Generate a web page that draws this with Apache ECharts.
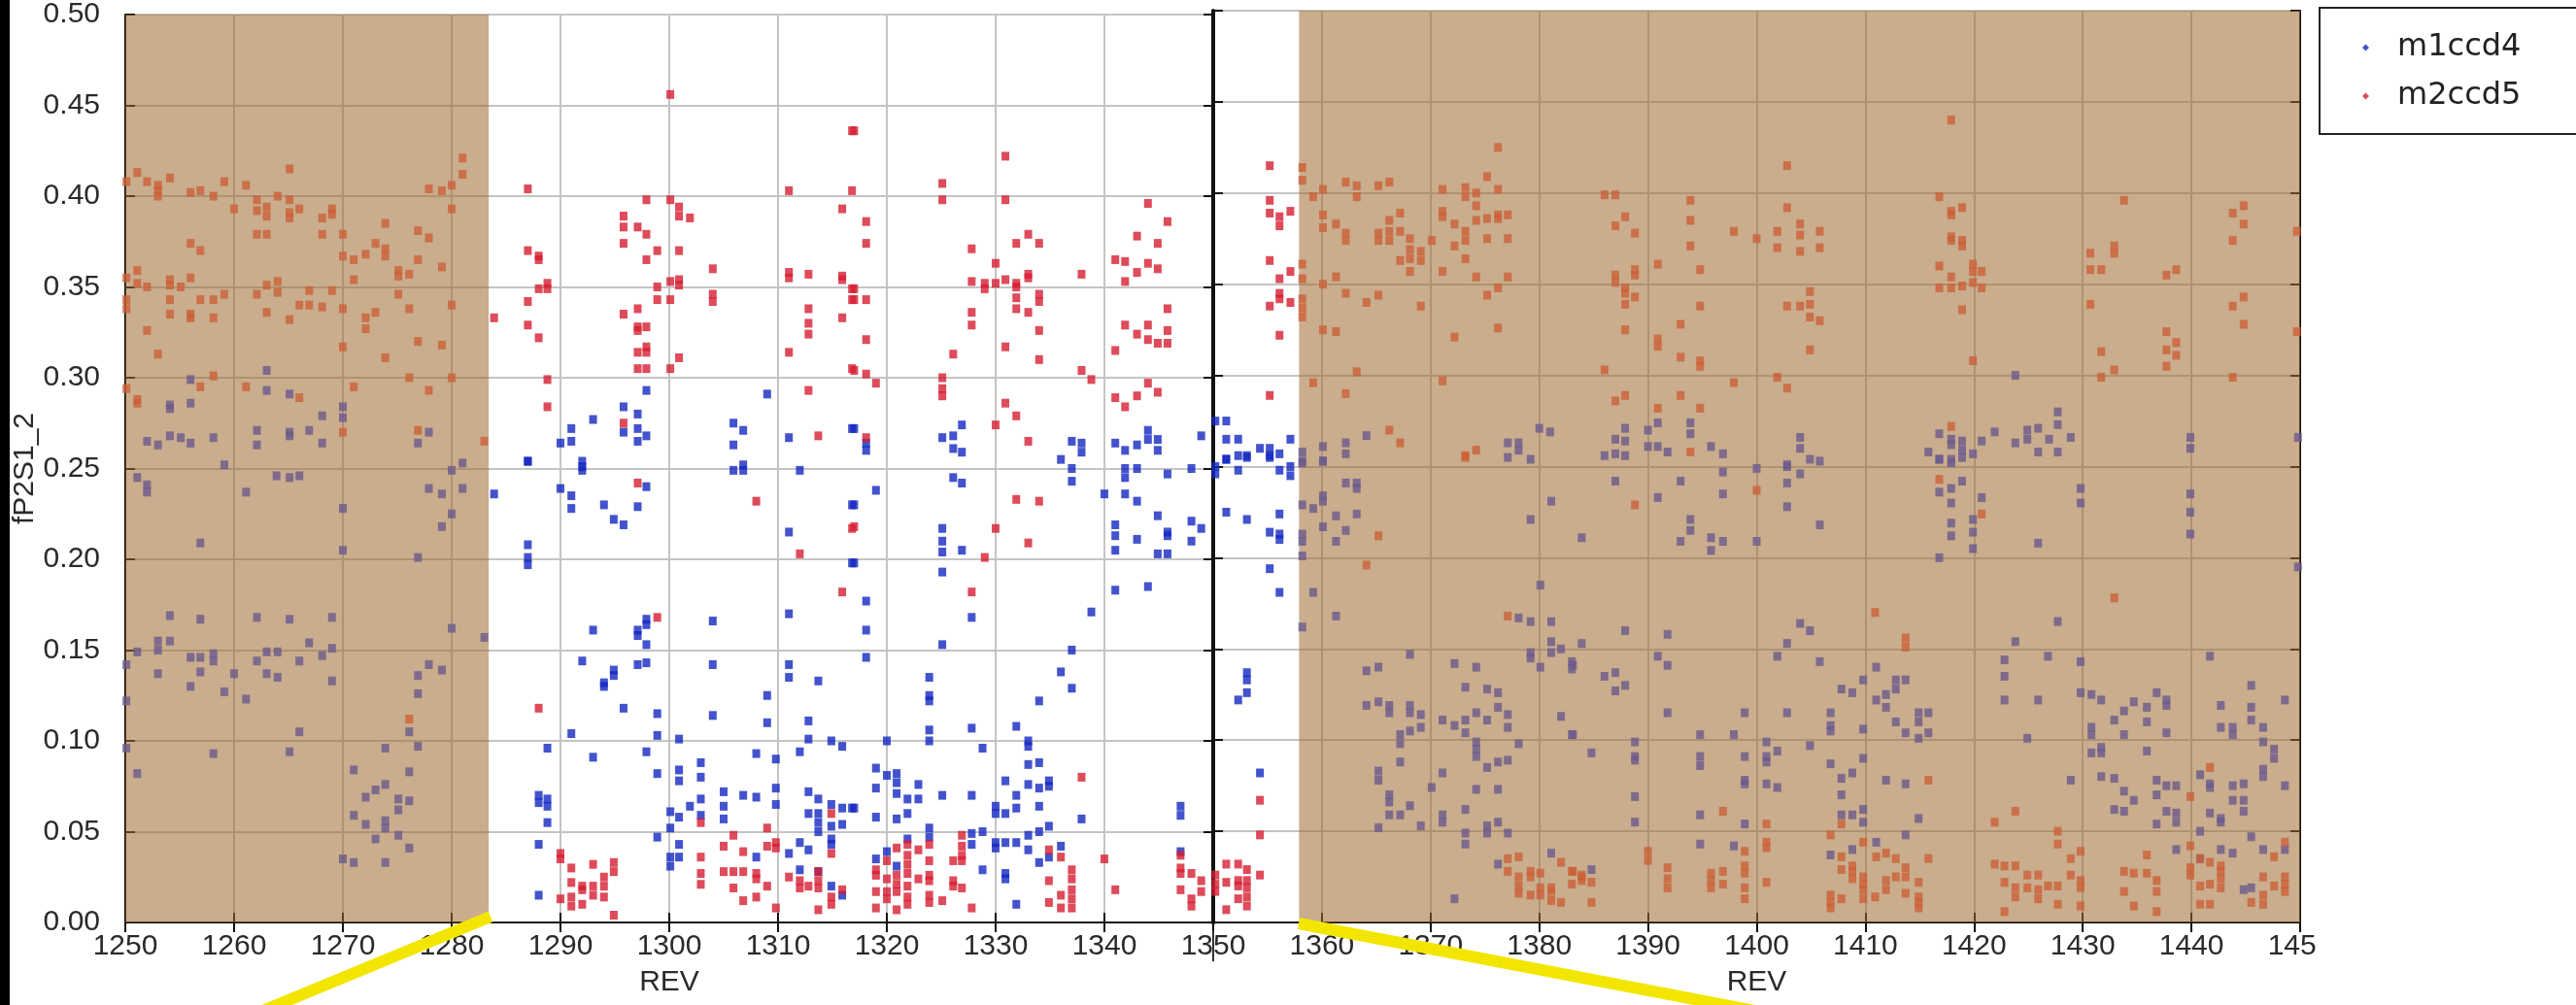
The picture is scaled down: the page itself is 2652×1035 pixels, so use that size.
<!DOCTYPE html>
<html>
<head>
<meta charset="utf-8">
<title>fP2S1_2 vs REV</title>
<script src="https://cdn.jsdelivr.net/npm/echarts/dist/echarts.min.js"></script>
<style>
  html, body { margin: 0; padding: 0; background: #fff; }
  #chart { width: 2652px; height: 1035px; }
</style>
</head>
<body>
<div id="chart"></div>
<script>
// REV ranges shaded brown
const shadeRanges = [[1250, 1283.4], [1357.9, 1450]];

// m1ccd4 [REV, fP2S1_2]
const m1ccd4 = [
  [1263.0,0.304],[1256.0,0.299],[1263.0,0.293],[1265.1,0.291],[1254.1,0.285],[1254.1,0.283],[1256.0,0.286],[1270.0,0.284],
  [1270.0,0.278],[1268.1,0.279],[1262.1,0.271],[1265.1,0.270],[1265.1,0.268],[1266.9,0.271],[1252.0,0.265],[1253.0,0.263],
  [1254.1,0.268],[1255.1,0.267],[1256.0,0.264],[1258.1,0.267],[1262.1,0.263],[1268.1,0.264],[1276.9,0.264],[1277.9,0.270],
  [1259.1,0.252],[1281.0,0.253],
  [1297.9,0.293],[1309.0,0.291],[1295.8,0.284],[1297.1,0.280],[1293.0,0.277],[1291.0,0.272],[1291.0,0.265],[1290.0,0.264],
  [1295.8,0.270],[1297.1,0.272],[1297.9,0.268],[1297.1,0.265],[1305.9,0.275],[1306.8,0.271],[1305.9,0.263],[1311.0,0.267],
  [1316.8,0.272],[1287.0,0.254],[1292.0,0.254],[1292.0,0.251],[1306.8,0.252],
  [1251.1,0.245],[1252.0,0.241],[1252.0,0.237],[1263.9,0.246],[1265.1,0.245],[1266.0,0.246],[1261.1,0.237],[1280.0,0.249],
  [1277.9,0.239],[1279.1,0.236],[1281.0,0.239],[1270.0,0.228],[1280.0,0.225],[1279.1,0.218],[1256.9,0.209],[1270.0,0.205],
  [1276.9,0.201],[1254.1,0.169],[1256.9,0.167],[1262.1,0.168],[1265.1,0.167],[1269.0,0.168],[1280.0,0.162],[1283.0,0.157],
  [1253.0,0.155],[1253.0,0.150],[1254.1,0.155],[1251.1,0.149],[1256.0,0.146],[1256.9,0.146],[1258.1,0.148],[1258.1,0.144],
  [1262.1,0.144],[1263.0,0.149],[1264.0,0.149],[1266.0,0.144],[1266.9,0.154],[1268.1,0.147],[1269.0,0.151],[1250.1,0.142],
  [1253.0,0.137],[1256.9,0.138],[1260.0,0.137],[1263.0,0.137],[1264.0,0.135],[1269.0,0.133],[1256.0,0.130],[1259.1,0.127],
  [1261.1,0.123],[1276.9,0.136],[1277.9,0.142],[1279.1,0.139],[1276.9,0.126],[1250.1,0.122],[1276.1,0.105],[1266.0,0.105],
  [1250.1,0.096],[1258.1,0.093],[1265.1,0.094],[1273.9,0.096],[1276.9,0.097],[1251.1,0.082],[1271.0,0.084],[1276.1,0.083],
  [1273.9,0.076],[1273.0,0.073],[1272.1,0.069],[1275.1,0.068],[1276.1,0.067],[1275.1,0.062],[1271.0,0.059],[1272.1,0.054],
  [1273.9,0.056],[1273.9,0.052],[1275.1,0.048],[1273.0,0.046],[1276.1,0.041],[1270.0,0.035],[1271.0,0.033],[1273.9,0.033],
  [1287.0,0.254],[1292.0,0.249],[1305.9,0.249],[1306.8,0.249],[1312.0,0.249],[1283.9,0.236],[1290.0,0.239],[1291.0,0.235],
  [1291.0,0.228],[1294.0,0.230],[1294.9,0.222],[1295.8,0.219],[1297.1,0.229],[1297.9,0.240],[1287.0,0.208],[1287.0,0.201],
  [1287.0,0.197],[1311.0,0.215],[1316.8,0.230],[1316.8,0.198],[1311.0,0.170],[1304.0,0.166],[1297.9,0.167],[1297.9,0.164],
  [1297.1,0.161],[1297.1,0.158],[1293.0,0.161],[1297.9,0.153],[1292.0,0.144],[1297.1,0.142],[1297.9,0.143],[1294.9,0.139],
  [1294.9,0.136],[1294.0,0.132],[1294.0,0.130],[1304.0,0.142],[1311.0,0.142],[1311.0,0.135],[1313.7,0.133],[1309.0,0.125],
  [1295.8,0.118],[1298.9,0.115],[1304.0,0.114],[1309.0,0.110],[1312.8,0.111],[1291.0,0.104],[1298.9,0.103],[1300.9,0.101],
  [1312.8,0.101],[1314.9,0.100],[1315.9,0.097],[1288.8,0.096],[1293.0,0.091],[1297.9,0.094],[1308.0,0.093],[1309.8,0.090],
  [1312.0,0.094],[1302.9,0.088],[1302.9,0.080],[1300.9,0.084],[1300.9,0.078],[1298.9,0.082],[1288.0,0.070],[1288.0,0.066],
  [1288.8,0.068],[1288.8,0.064],[1305.0,0.072],[1306.8,0.070],[1308.0,0.069],[1309.8,0.074],[1309.8,0.065],[1312.8,0.072],
  [1313.7,0.068],[1314.9,0.065],[1315.9,0.063],[1316.8,0.063],[1302.9,0.068],[1301.9,0.064],[1305.0,0.064],[1300.1,0.061],
  [1300.9,0.058],[1302.9,0.059],[1305.0,0.057],[1312.8,0.060],[1313.7,0.060],[1313.7,0.055],[1314.9,0.053],[1315.9,0.054],
  [1288.8,0.055],[1300.1,0.052],[1298.9,0.047],[1313.7,0.050],[1288.0,0.043],[1300.9,0.043],[1312.0,0.044],[1312.8,0.040],
  [1314.9,0.046],[1314.9,0.043],[1311.0,0.038],[1300.1,0.036],[1300.9,0.036],[1308.0,0.036],[1300.1,0.031],[1312.0,0.029],
  [1313.7,0.028],[1314.9,0.020],[1315.9,0.015],[1288.0,0.015],
  [1317.0,0.272],[1318.1,0.264],[1318.1,0.260],[1326.9,0.274],[1325.1,0.267],[1326.1,0.268],[1326.1,0.261],[1326.9,0.259],
  [1337.0,0.265],[1337.9,0.264],[1337.9,0.259],[1336.0,0.255],[1341.0,0.264],[1341.9,0.260],[1343.0,0.263],[1344.0,0.271],
  [1344.0,0.266],[1344.9,0.266],[1344.9,0.260],[1348.9,0.268],[1350.2,0.275],[1351.2,0.275],[1351.2,0.265],[1352.3,0.265],
  [1351.2,0.254],[1352.3,0.256],[1353.1,0.256],[1354.3,0.260],[1355.2,0.260],[1355.2,0.256],[1356.1,0.257],[1357.1,0.265],
  [1358.2,0.258],[1358.2,0.253],[1360.1,0.261],[1360.1,0.253],[1362.2,0.263],[1362.2,0.257],[1364.1,0.267],[1377.1,0.263],
  [1378.1,0.263],[1378.1,0.259],[1377.1,0.255],[1379.2,0.254],[1380.0,0.271],[1381.0,0.269],
  [1337.0,0.250],[1337.0,0.243],[1341.9,0.250],[1341.9,0.245],[1343.0,0.250],[1345.8,0.247],[1348.0,0.250],[1350.2,0.250],
  [1350.2,0.246],[1351.2,0.254],[1352.3,0.248],[1353.1,0.255],[1355.2,0.255],[1356.1,0.248],[1357.1,0.250],[1357.1,0.245],
  [1326.1,0.245],[1326.9,0.242],[1319.0,0.238],[1317.0,0.230],[1340.0,0.236],[1341.9,0.236],[1343.0,0.232],[1344.9,0.224],
  [1348.0,0.221],[1348.9,0.217],[1345.8,0.215],[1345.8,0.213],[1348.0,0.210],[1341.0,0.219],[1341.0,0.213],[1341.0,0.205],
  [1343.0,0.211],[1344.9,0.203],[1345.8,0.203],[1325.1,0.217],[1325.1,0.210],[1325.1,0.204],[1326.9,0.205],[1317.0,0.198],
  [1325.1,0.193],[1351.2,0.225],[1353.1,0.221],[1355.2,0.214],[1356.1,0.224],[1356.1,0.213],[1356.1,0.210],[1355.2,0.194],
  [1356.1,0.181],[1341.0,0.183],[1344.0,0.185],[1318.1,0.177],[1327.8,0.168],[1338.8,0.171],[1318.1,0.161],[1325.1,0.153],
  [1318.1,0.146],[1337.0,0.150],[1336.0,0.138],[1337.0,0.129],[1323.9,0.135],[1323.9,0.125],[1323.9,0.122],[1334.0,0.122],
  [1353.1,0.137],[1353.1,0.133],[1353.1,0.126],[1352.3,0.122],[1323.9,0.106],[1323.9,0.100],[1327.8,0.107],[1331.9,0.108],
  [1320.0,0.100],[1328.8,0.096],[1333.0,0.100],[1333.0,0.097],[1319.0,0.085],[1320.0,0.081],[1320.9,0.082],[1320.9,0.077],
  [1320.9,0.071],[1319.0,0.074],[1322.9,0.076],[1321.9,0.068],[1322.9,0.068],[1325.1,0.070],[1327.8,0.070],[1330.9,0.078],
  [1333.0,0.087],[1334.0,0.088],[1333.0,0.076],[1334.0,0.074],[1334.9,0.078],[1334.9,0.075],[1331.9,0.070],[1331.9,0.063],
  [1330.0,0.064],[1330.0,0.060],[1330.9,0.060],[1334.0,0.064],[1337.9,0.057],[1347.0,0.064],[1347.0,0.059],[1317.0,0.063],
  [1319.0,0.058],[1320.9,0.057],[1321.9,0.060],[1323.9,0.052],[1323.9,0.047],[1321.9,0.046],[1327.8,0.049],[1327.8,0.043],
  [1328.8,0.050],[1330.0,0.044],[1330.0,0.041],[1330.9,0.044],[1331.9,0.044],[1333.0,0.048],[1333.0,0.040],[1334.0,0.050],
  [1334.9,0.053],[1336.0,0.042],[1320.0,0.039],[1319.0,0.035],[1320.9,0.031],[1334.9,0.036],[1334.0,0.033],[1328.8,0.029],
  [1330.9,0.027],[1330.9,0.024],[1331.9,0.010],[1347.0,0.039],[1354.3,0.082],
  [1358.2,0.252],[1360.1,0.253],[1362.2,0.241],[1363.2,0.241],[1363.2,0.238],[1358.2,0.229],[1359.2,0.227],[1360.1,0.234],
  [1360.1,0.231],[1361.3,0.223],[1363.2,0.224],[1358.2,0.213],[1358.2,0.209],[1358.2,0.201],[1360.1,0.217],[1362.2,0.215],
  [1361.3,0.209],[1359.2,0.181],[1361.3,0.168],[1358.2,0.162],[1368.1,0.147],[1364.1,0.138],[1365.2,0.140],[1372.2,0.142],
  [1374.2,0.140],[1373.2,0.129],[1375.2,0.128],[1376.2,0.126],[1364.1,0.119],[1365.2,0.121],[1366.2,0.119],[1366.2,0.115],
  [1368.1,0.119],[1368.1,0.115],[1369.1,0.114],[1371.1,0.111],[1372.2,0.108],[1373.2,0.111],[1374.2,0.115],[1375.2,0.111],
  [1376.2,0.118],[1377.1,0.114],[1377.1,0.107],[1367.2,0.103],[1367.2,0.098],[1368.1,0.105],[1369.1,0.107],[1373.2,0.104],
  [1374.2,0.099],[1374.2,0.095],[1374.2,0.091],[1378.1,0.098],[1367.2,0.088],[1365.2,0.083],[1365.2,0.078],[1371.1,0.082],
  [1375.2,0.085],[1376.2,0.088],[1377.1,0.089],[1370.1,0.074],[1374.2,0.073],[1376.2,0.073],[1366.2,0.070],[1366.2,0.066],
  [1368.1,0.064],[1373.2,0.062],[1366.2,0.059],[1367.2,0.059],[1371.1,0.059],[1371.1,0.055],[1376.2,0.055],[1369.1,0.053],
  [1365.2,0.052],[1375.2,0.053],[1375.2,0.049],[1373.2,0.049],[1373.2,0.043],[1377.1,0.049],[1381.1,0.231],[1379.2,0.221],
  [1380.1,0.185],[1378.1,0.167],[1379.2,0.165],[1381.1,0.165],[1381.1,0.154],[1381.1,0.148],[1382.0,0.150],[1379.2,0.148],
  [1379.2,0.145],[1380.1,0.140],[1383.0,0.143],[1383.0,0.139],[1382.0,0.113],[1383.0,0.103],[1381.1,0.038],[1376.2,0.032],
  [1372.2,0.013],
  [1423.8,0.300],[1427.7,0.280],[1427.7,0.273],[1424.9,0.270],[1424.9,0.265],[1425.9,0.271],[1426.9,0.265],[1428.9,0.266],
  [1421.9,0.269],[1420.7,0.264],[1423.8,0.263],[1425.9,0.258],[1427.7,0.258],[1416.8,0.268],[1417.9,0.265],[1417.9,0.262],
  [1417.9,0.254],[1418.9,0.264],[1418.9,0.259],[1418.9,0.255],[1419.9,0.257],[1415.8,0.258],[1416.8,0.254],[1439.9,0.266],
  [1439.9,0.260],[1387.9,0.271],[1387.0,0.265],[1387.9,0.264],[1386.0,0.256],[1387.0,0.257],[1387.9,0.256],[1390.0,0.270],
  [1390.9,0.274],[1390.0,0.261],[1390.9,0.261],[1391.8,0.258],[1393.9,0.274],[1393.9,0.268],[1395.8,0.261],[1396.9,0.257],
  [1404.0,0.266],[1404.0,0.260],[1404.9,0.254],[1405.8,0.253],[1402.8,0.251],[1449.8,0.266],[1449.8,0.195],
  [1396.9,0.247],[1396.9,0.235],[1400.0,0.249],[1402.8,0.250],[1402.8,0.241],[1402.8,0.228],[1404.0,0.246],[1387.0,0.242],
  [1393.0,0.242],[1390.9,0.233],[1383.9,0.211],[1393.9,0.221],[1393.9,0.215],[1393.0,0.209],[1395.8,0.211],[1395.8,0.204],
  [1396.9,0.209],[1400.0,0.209],[1405.8,0.218],[1416.8,0.254],[1417.9,0.252],[1418.9,0.242],[1417.9,0.238],[1417.9,0.230],
  [1416.8,0.236],[1420.7,0.233],[1417.9,0.219],[1417.9,0.212],[1419.9,0.221],[1419.9,0.214],[1419.9,0.205],[1416.8,0.200],
  [1425.9,0.208],[1429.8,0.238],[1429.8,0.230],[1439.9,0.235],[1439.9,0.225],[1439.9,0.213],[1427.7,0.165],[1423.8,0.154],
  [1422.8,0.144],[1422.8,0.135],[1422.8,0.122],[1426.8,0.146],[1429.8,0.143],[1425.9,0.122],[1441.7,0.146],[1429.8,0.126],
  [1430.8,0.125],[1431.7,0.122],[1436.8,0.126],[1437.7,0.122],[1437.7,0.119],[1434.7,0.121],[1433.8,0.116],[1435.9,0.118],
  [1432.9,0.111],[1435.9,0.110],[1430.8,0.107],[1430.8,0.103],[1433.8,0.103],[1437.7,0.104],[1424.9,0.101],[1430.8,0.093],
  [1431.7,0.096],[1431.7,0.093],[1435.9,0.094],[1428.9,0.078],[1431.7,0.080],[1432.9,0.079],[1433.8,0.072],[1434.7,0.067],
  [1432.9,0.062],[1433.8,0.061],[1436.8,0.078],[1437.7,0.075],[1438.6,0.075],[1436.8,0.070],[1437.7,0.061],[1438.6,0.060],
  [1438.6,0.055],[1436.8,0.054],[1440.8,0.050],[1438.6,0.040],[1442.7,0.119],[1445.5,0.130],[1445.5,0.118],[1445.5,0.111],
  [1442.7,0.107],[1443.8,0.107],[1443.8,0.103],[1446.6,0.107],[1446.6,0.099],[1447.6,0.095],[1447.6,0.090],[1448.6,0.122],
  [1446.6,0.084],[1446.6,0.080],[1440.8,0.081],[1441.7,0.076],[1441.7,0.074],[1443.8,0.075],[1444.8,0.076],[1448.6,0.075],
  [1443.8,0.067],[1444.8,0.067],[1441.7,0.060],[1442.7,0.057],[1444.8,0.061],[1442.7,0.055],[1445.5,0.047],[1440.8,0.035],
  [1442.7,0.040],[1443.8,0.038],[1446.6,0.040],[1448.6,0.040],[1444.8,0.018],[1445.5,0.019],
  [1383.1,0.141],[1386.0,0.135],[1387.0,0.137],[1387.9,0.130],[1387.0,0.127],[1383.9,0.153],[1387.9,0.160],[1391.8,0.158],
  [1390.9,0.146],[1391.8,0.141],[1391.8,0.115],[1398.9,0.115],[1402.8,0.115],[1402.8,0.153],[1401.9,0.146],[1404.0,0.164],
  [1404.9,0.160],[1405.8,0.143],[1406.8,0.115],[1406.8,0.108],[1406.8,0.105],[1407.8,0.128],[1408.8,0.126],[1409.8,0.133],
  [1411.0,0.140],[1411.0,0.122],[1411.9,0.125],[1411.9,0.118],[1412.8,0.128],[1412.8,0.133],[1413.7,0.133],[1409.8,0.106],
  [1412.8,0.110],[1413.7,0.104],[1414.9,0.115],[1414.9,0.110],[1415.8,0.115],[1415.8,0.104],[1414.9,0.101],[1383.1,0.103],
  [1394.8,0.103],[1397.9,0.103],[1388.8,0.099],[1388.8,0.091],[1388.8,0.089],[1384.8,0.093],[1394.8,0.091],[1394.8,0.086],
  [1398.9,0.091],[1400.9,0.099],[1400.9,0.091],[1400.9,0.088],[1401.9,0.094],[1404.9,0.097],[1406.8,0.087],[1409.8,0.090],
  [1398.9,0.078],[1398.9,0.076],[1400.9,0.076],[1401.9,0.074],[1407.8,0.079],[1408.8,0.082],[1411.9,0.078],[1413.7,0.076],
  [1407.8,0.070],[1388.8,0.069],[1388.8,0.055],[1394.8,0.059],[1398.9,0.054],[1407.8,0.059],[1408.8,0.059],[1409.8,0.062],
  [1409.8,0.055],[1414.9,0.057],[1413.7,0.048],[1394.8,0.043],[1397.9,0.042],[1406.8,0.037],[1408.8,0.040],[1411.0,0.044],
  [1384.8,0.029]
];

// m2ccd5 [REV, fP2S1_2]
const m2ccd5 = [
  [1281.0,0.421],[1281.0,0.412],[1265.1,0.415],[1251.1,0.413],[1250.1,0.408],[1252.0,0.408],[1253.0,0.406],[1253.0,0.403],
  [1253.0,0.400],[1254.1,0.410],[1256.0,0.402],[1256.9,0.403],[1258.1,0.400],[1259.1,0.408],[1261.1,0.406],[1262.1,0.398],
  [1264.0,0.400],[1265.1,0.398],[1277.9,0.404],[1279.1,0.403],[1280.0,0.406],[1280.0,0.393],[1260.0,0.393],[1262.1,0.392],
  [1263.0,0.394],[1263.0,0.389],[1265.1,0.391],[1265.1,0.388],[1266.0,0.393],[1268.1,0.388],[1269.0,0.393],[1269.0,0.390],
  [1262.1,0.379],[1263.0,0.379],[1268.1,0.379],[1270.0,0.379],[1273.9,0.385],[1276.9,0.381],[1277.9,0.377],[1256.0,0.374],
  [1256.9,0.370],[1273.0,0.374],[1272.1,0.368],[1273.9,0.371],[1273.9,0.367],[1270.0,0.367],[1271.0,0.365],[1276.9,0.365],
  [1279.1,0.361],[1251.1,0.359],[1250.1,0.355],[1251.1,0.352],[1252.0,0.350],[1254.1,0.354],[1254.1,0.351],[1255.1,0.350],
  [1256.0,0.355],[1263.0,0.351],[1264.0,0.353],[1264.0,0.347],[1271.0,0.354],[1275.1,0.359],[1275.1,0.356],[1276.1,0.357],
  [1266.9,0.348],[1269.0,0.348],[1250.1,0.343],[1254.1,0.343],[1256.9,0.343],[1258.1,0.343],[1259.1,0.346],[1262.1,0.346],
  [1275.1,0.346],[1250.1,0.338],[1254.1,0.335],[1256.0,0.335],[1256.0,0.333],[1258.1,0.333],[1263.0,0.336],[1265.1,0.332],
  [1266.0,0.340],[1266.9,0.340],[1268.1,0.339],[1270.0,0.338],[1273.0,0.336],[1272.1,0.333],[1272.1,0.327],[1276.1,0.338],
  [1280.0,0.340],[1252.0,0.326],[1253.0,0.313],[1270.0,0.317],[1273.9,0.311],[1276.9,0.320],[1279.1,0.318],[1258.1,0.301],
  [1276.1,0.300],[1280.0,0.300],[1256.9,0.295],[1261.1,0.295],[1250.1,0.294],[1251.1,0.288],[1251.1,0.286],[1266.0,0.289],
  [1271.0,0.295],[1277.9,0.293],[1270.0,0.270],[1276.9,0.271],[1283.0,0.265],[1276.1,0.112],
  [1300.1,0.456],[1316.8,0.436],[1287.0,0.404],[1311.0,0.403],[1316.8,0.403],[1297.9,0.398],[1300.1,0.398],[1300.9,0.394],
  [1300.9,0.389],[1301.9,0.388],[1315.9,0.393],[1295.8,0.389],[1295.8,0.383],[1297.1,0.383],[1297.9,0.379],[1295.8,0.374],
  [1287.0,0.370],[1288.0,0.367],[1288.0,0.365],[1298.9,0.370],[1297.9,0.365],[1300.9,0.370],[1304.0,0.360],[1311.0,0.358],
  [1311.0,0.355],[1312.8,0.357],[1315.9,0.356],[1315.9,0.354],[1288.8,0.352],[1288.8,0.349],[1288.0,0.349],[1298.9,0.350],
  [1300.1,0.353],[1300.9,0.354],[1300.9,0.351],[1316.8,0.349],[1298.9,0.343],[1300.1,0.343],[1304.0,0.346],[1304.0,0.342],
  [1316.8,0.343],[1287.0,0.342],[1283.9,0.333],[1295.8,0.335],[1297.1,0.338],[1312.8,0.338],[1312.8,0.330],[1315.9,0.333],
  [1287.0,0.329],[1288.0,0.322],[1297.1,0.328],[1297.1,0.326],[1297.9,0.328],[1312.8,0.324],[1297.1,0.314],[1297.9,0.317],
  [1297.9,0.314],[1300.9,0.311],[1311.0,0.314],[1297.1,0.305],[1297.9,0.305],[1300.1,0.305],[1316.8,0.305],[1288.8,0.299],
  [1312.8,0.293],[1288.8,0.284],[1295.8,0.275],[1313.7,0.268],
  [1297.1,0.242],[1308.0,0.232],[1316.8,0.217],[1312.0,0.203],[1315.9,0.182],[1298.9,0.168],[1288.0,0.118],[1314.9,0.060],
  [1302.9,0.055],[1309.0,0.052],[1305.9,0.048],[1309.8,0.044],[1309.8,0.041],[1305.0,0.042],[1309.0,0.042],[1306.8,0.039],
  [1314.9,0.038],[1290.0,0.038],[1290.0,0.035],[1302.9,0.036],[1291.0,0.030],[1293.0,0.032],[1294.9,0.033],[1294.9,0.028],
  [1294.0,0.025],[1294.0,0.020],[1291.0,0.022],[1292.0,0.020],[1292.0,0.018],[1293.0,0.020],[1293.0,0.015],[1294.0,0.014],
  [1290.0,0.013],[1291.0,0.014],[1291.0,0.009],[1292.0,0.010],[1294.9,0.004],[1302.9,0.027],[1302.9,0.021],[1305.0,0.028],
  [1305.9,0.028],[1306.8,0.028],[1308.0,0.027],[1308.0,0.024],[1309.0,0.020],[1305.9,0.019],[1306.8,0.012],[1308.0,0.014],
  [1311.0,0.025],[1312.0,0.023],[1312.0,0.019],[1312.8,0.020],[1313.7,0.028],[1313.7,0.023],[1313.7,0.019],[1314.9,0.014],
  [1314.9,0.010],[1315.9,0.018],[1309.8,0.008],[1313.7,0.007],
  [1317.0,0.436],[1330.9,0.422],[1325.1,0.407],[1325.1,0.398],[1330.9,0.398],[1355.2,0.415],[1344.0,0.396],[1345.8,0.386],
  [1318.1,0.386],[1318.1,0.374],[1355.2,0.396],[1355.2,0.389],[1356.1,0.387],[1356.1,0.382],[1357.1,0.390],[1333.0,0.379],
  [1331.9,0.374],[1334.0,0.374],[1327.8,0.371],[1343.0,0.378],[1344.9,0.374],[1341.0,0.365],[1341.9,0.364],[1344.0,0.363],
  [1344.9,0.360],[1343.0,0.358],[1330.0,0.363],[1337.9,0.357],[1341.9,0.353],[1327.8,0.353],[1329.0,0.352],[1329.0,0.349],
  [1330.0,0.352],[1330.9,0.354],[1331.9,0.352],[1331.9,0.350],[1333.0,0.357],[1333.0,0.355],[1355.2,0.363],[1357.1,0.357],
  [1356.1,0.353],[1317.0,0.349],[1317.0,0.343],[1318.1,0.343],[1331.9,0.344],[1334.0,0.346],[1334.0,0.342],[1356.1,0.345],
  [1356.1,0.342],[1357.1,0.340],[1355.2,0.338],[1327.8,0.336],[1331.9,0.338],[1333.0,0.336],[1345.8,0.338],[1327.8,0.329],
  [1341.9,0.329],[1344.0,0.329],[1334.0,0.326],[1345.8,0.326],[1343.0,0.324],[1344.0,0.321],[1344.9,0.319],[1345.8,0.319],
  [1318.1,0.321],[1356.1,0.322],[1330.9,0.317],[1341.0,0.315],[1326.1,0.313],[1334.0,0.310],[1317.0,0.304],[1318.1,0.302],
  [1319.0,0.297],[1325.1,0.300],[1325.1,0.294],[1325.1,0.290],[1337.9,0.304],[1338.8,0.299],[1344.0,0.297],[1344.9,0.292],
  [1343.0,0.290],[1341.0,0.289],[1341.9,0.284],[1355.2,0.289],[1330.9,0.286],[1331.9,0.279],[1330.0,0.274],[1318.1,0.267],
  [1333.0,0.265],
  [1376.2,0.425],[1358.2,0.414],[1358.2,0.407],[1375.2,0.409],[1362.2,0.406],[1363.2,0.404],[1363.2,0.398],[1365.2,0.404],
  [1366.2,0.406],[1371.1,0.402],[1373.2,0.403],[1373.2,0.398],[1374.2,0.400],[1374.2,0.393],[1376.2,0.402],[1359.2,0.398],
  [1360.1,0.402],[1360.1,0.388],[1360.1,0.381],[1361.3,0.383],[1362.2,0.378],[1362.2,0.374],[1365.2,0.378],[1365.2,0.374],
  [1366.2,0.385],[1366.2,0.379],[1366.2,0.374],[1367.2,0.389],[1367.2,0.379],[1371.1,0.390],[1371.1,0.387],[1372.2,0.383],
  [1373.2,0.379],[1373.2,0.374],[1374.2,0.385],[1375.2,0.386],[1376.2,0.388],[1376.2,0.386],[1377.1,0.388],[1377.1,0.375],
  [1375.2,0.375],[1370.1,0.374],[1368.1,0.375],[1368.1,0.369],[1368.1,0.364],[1368.1,0.357],[1369.1,0.368],[1369.1,0.363],
  [1367.2,0.363],[1372.2,0.371],[1373.2,0.364],[1371.1,0.357],[1358.2,0.361],[1358.2,0.353],[1361.3,0.354],[1374.2,0.354],
  [1377.1,0.354],[1360.1,0.350],[1362.2,0.345],[1365.2,0.344],[1364.1,0.340],[1375.2,0.344],[1376.2,0.348],[1358.2,0.342],
  [1358.2,0.337],[1358.2,0.332],[1369.1,0.338],[1360.1,0.325],[1361.3,0.324],[1376.2,0.326],[1372.2,0.321],[1363.2,0.302],
  [1359.2,0.296],[1362.2,0.290],[1371.1,0.297],[1366.2,0.270],[1367.2,0.263],[1373.2,0.256],[1374.2,0.259],
  [1331.9,0.233],[1334.0,0.232],[1317.0,0.218],[1330.0,0.217],[1333.0,0.209],[1329.0,0.201],[1327.8,0.182],[1337.9,0.080],
  [1354.3,0.067],[1354.3,0.048],[1326.9,0.048],[1321.9,0.043],[1320.9,0.041],[1322.9,0.040],[1320.0,0.034],[1319.0,0.029],
  [1319.0,0.026],[1321.9,0.037],[1321.9,0.032],[1321.9,0.027],[1323.9,0.043],[1323.9,0.034],[1326.1,0.034],[1326.9,0.034],
  [1326.9,0.042],[1326.9,0.037],[1320.0,0.024],[1320.9,0.026],[1320.9,0.021],[1320.9,0.017],[1322.9,0.024],[1323.9,0.026],
  [1323.9,0.023],[1321.9,0.020],[1321.9,0.014],[1321.9,0.010],[1319.0,0.017],[1320.0,0.017],[1320.0,0.013],[1319.0,0.008],
  [1320.9,0.007],[1323.9,0.015],[1323.9,0.011],[1325.1,0.012],[1326.1,0.023],[1326.1,0.020],[1326.9,0.019],[1327.8,0.008],
  [1334.9,0.040],[1336.0,0.036],[1337.0,0.029],[1337.0,0.024],[1337.0,0.018],[1337.0,0.013],[1334.9,0.023],[1336.0,0.015],
  [1334.9,0.011],[1336.0,0.008],[1337.0,0.008],[1340.0,0.035],[1341.0,0.018],[1347.0,0.037],[1347.0,0.030],[1347.0,0.027],
  [1348.0,0.027],[1348.9,0.023],[1347.0,0.018],[1348.0,0.013],[1348.9,0.017],[1348.0,0.009],[1350.2,0.026],[1350.2,0.021],
  [1351.2,0.032],[1352.3,0.032],[1353.1,0.029],[1354.3,0.026],[1351.2,0.022],[1352.3,0.023],[1352.3,0.020],[1353.1,0.023],
  [1353.1,0.019],[1353.1,0.014],[1350.2,0.017],[1352.3,0.013],[1351.2,0.007],[1353.1,0.009],
  [1365.2,0.212],[1364.1,0.196],[1377.1,0.168],[1373.2,0.255],[1377.1,0.035],[1378.1,0.036],[1382.0,0.033],[1383.0,0.028],
  [1377.1,0.028],[1378.1,0.025],[1378.1,0.020],[1378.1,0.016],[1379.2,0.028],[1379.2,0.025],[1379.2,0.015],[1380.1,0.027],
  [1380.1,0.019],[1380.1,0.015],[1381.1,0.019],[1381.1,0.017],[1381.1,0.012],[1382.0,0.011],[1383.0,0.021],[1383.9,0.025],
  [1417.9,0.440],[1402.8,0.415],[1386.0,0.399],[1387.0,0.399],[1393.9,0.396],[1402.8,0.392],[1416.8,0.398],[1433.8,0.396],
  [1417.9,0.390],[1417.9,0.388],[1418.9,0.392],[1444.8,0.393],[1387.9,0.387],[1387.0,0.382],[1393.9,0.385],[1388.8,0.378],
  [1397.9,0.379],[1400.0,0.375],[1401.9,0.379],[1404.0,0.383],[1404.0,0.377],[1405.8,0.379],[1405.8,0.370],[1401.9,0.370],
  [1404.0,0.368],[1393.9,0.371],[1417.9,0.376],[1417.9,0.374],[1418.9,0.374],[1418.9,0.371],[1443.8,0.389],[1444.8,0.383],
  [1443.8,0.374],[1430.7,0.367],[1432.9,0.371],[1432.9,0.367],[1390.9,0.361],[1387.0,0.355],[1387.0,0.351],[1388.8,0.358],
  [1388.8,0.355],[1394.8,0.358],[1387.9,0.348],[1387.9,0.345],[1388.8,0.343],[1387.9,0.339],[1416.8,0.360],[1417.9,0.354],
  [1419.9,0.361],[1419.9,0.357],[1419.9,0.351],[1420.7,0.357],[1416.8,0.348],[1417.9,0.348],[1418.9,0.349],[1420.7,0.348],
  [1430.7,0.358],[1431.7,0.358],[1437.7,0.355],[1438.6,0.358],[1404.9,0.346],[1402.8,0.338],[1404.0,0.338],[1404.9,0.339],
  [1404.9,0.332],[1405.8,0.330],[1394.8,0.338],[1418.9,0.336],[1430.7,0.339],[1444.8,0.343],[1443.8,0.338],[1393.0,0.328],
  [1387.9,0.325],[1444.8,0.328],[1437.7,0.324],[1390.9,0.320],[1390.9,0.316],[1404.9,0.314],[1437.7,0.314],[1438.6,0.318],
  [1438.6,0.311],[1431.7,0.313],[1393.0,0.310],[1394.8,0.308],[1394.8,0.305],[1419.9,0.308],[1437.7,0.305],[1432.9,0.303],
  [1431.7,0.299],[1386.0,0.303],[1401.9,0.299],[1402.8,0.293],[1397.9,0.296],[1443.8,0.299],[1387.0,0.286],[1387.9,0.289],
  [1393.0,0.289],[1390.9,0.282],[1394.8,0.282],[1393.9,0.258],[1417.9,0.272],[1449.7,0.379],[1449.7,0.324],
  [1388.8,0.229],[1400.0,0.237],[1416.8,0.243],[1420.7,0.224],[1432.9,0.178],[1410.9,0.170],[1413.7,0.156],[1413.7,0.151],
  [1415.8,0.078],[1441.7,0.085],[1439.9,0.069],[1396.9,0.061],[1423.8,0.061],[1421.9,0.055],[1400.9,0.054],[1407.8,0.054],
  [1427.7,0.050],[1427.7,0.043],[1406.8,0.048],[1409.8,0.044],[1400.9,0.044],[1400.9,0.041],[1390.0,0.039],[1390.0,0.034],
  [1398.9,0.039],[1407.8,0.036],[1411.0,0.036],[1411.9,0.038],[1412.8,0.035],[1415.8,0.035],[1429.8,0.039],[1428.9,0.035],
  [1435.9,0.037],[1439.9,0.042],[1440.8,0.035],[1441.7,0.033],[1447.6,0.036],[1448.6,0.044],[1383.1,0.028],[1383.9,0.026],
  [1383.9,0.023],[1384.8,0.022],[1384.8,0.011],[1391.8,0.030],[1391.8,0.024],[1391.8,0.019],[1395.8,0.027],[1395.8,0.023],
  [1395.8,0.019],[1396.9,0.028],[1396.9,0.021],[1398.9,0.031],[1398.9,0.027],[1398.9,0.019],[1398.9,0.013],[1400.9,0.022],
  [1406.8,0.015],[1406.8,0.011],[1406.8,0.008],[1407.8,0.029],[1407.8,0.013],[1408.8,0.031],[1408.8,0.028],[1408.8,0.024],
  [1409.8,0.025],[1409.8,0.021],[1409.8,0.018],[1409.8,0.013],[1410.9,0.014],[1411.9,0.023],[1411.9,0.018],[1412.8,0.025],
  [1413.7,0.030],[1413.7,0.025],[1413.7,0.016],[1414.9,0.022],[1414.9,0.014],[1414.9,0.011],[1414.9,0.008],[1421.9,0.032],
  [1422.8,0.031],[1423.8,0.031],[1422.8,0.022],[1423.8,0.019],[1423.8,0.014],[1422.8,0.006],[1424.9,0.026],[1424.9,0.019],
  [1425.9,0.026],[1425.9,0.018],[1425.9,0.013],[1426.8,0.020],[1427.7,0.020],[1427.7,0.010],[1428.9,0.026],[1429.8,0.023],
  [1429.8,0.019],[1429.8,0.009],[1433.8,0.028],[1434.7,0.027],[1435.9,0.027],[1433.8,0.017],[1434.7,0.009],[1436.8,0.023],
  [1436.8,0.017],[1436.8,0.006],[1439.9,0.030],[1439.9,0.026],[1440.8,0.020],[1441.7,0.021],[1440.8,0.010],[1441.7,0.010],
  [1442.7,0.031],[1442.7,0.028],[1442.7,0.024],[1442.7,0.019],[1445.5,0.011],[1446.6,0.025],[1446.6,0.015],[1446.6,0.010],
  [1447.6,0.020],[1448.6,0.025],[1448.6,0.021],[1448.6,0.017]
];

const blueColor = '#1428c0', blueShaded = '#6c5a8c';
const redColor = '#d61e32', redShaded = '#cc6038';

function inShade(x) {
  return shadeRanges.some(r => x >= r[0] && x <= r[1]);
}
function pointColor(base, shaded) {
  return p => inShade(p.value[0]) ? shaded : base;
}

const labelFont = { fontFamily: 'Liberation Sans', fontSize: 30, color: '#2a2a2a' };
const gridLine = { show: true, lineStyle: { color: '#c4c4c4', width: 2 } };
const blackLine = { show: true, lineStyle: { color: '#111', width: 2 } };
const seamLine = { show: true, lineStyle: { color: '#111', width: 4 } };
const inTick = { show: true, inside: true, length: 10, lineStyle: { color: '#111', width: 2 } };

function xAxes(gi, min, max, showMin) {
  return [
    { gridIndex: gi, type: 'value', min: min, max: max, interval: 10, position: 'bottom',
      axisLine: blackLine, axisTick: inTick, splitLine: gridLine,
      axisLabel: Object.assign({ margin: 10, showMinLabel: showMin, formatter: v => String(v) }, labelFont),
      name: 'REV', nameLocation: 'middle', nameGap: 47, nameTextStyle: labelFont },
    { gridIndex: gi, type: 'value', min: min, max: max, interval: 10, position: 'top',
      axisLine: blackLine, axisTick: inTick, axisLabel: { show: false }, splitLine: { show: false } }
  ];
}

// gi 0 is the left plot (labels on its left side, seam on its right)
function yAxes(gi) {
  const first = gi === 0;
  return [
    { gridIndex: gi, type: 'value', min: 0, max: 0.5, interval: 0.05, position: 'left',
      axisLine: first ? blackLine : seamLine, axisTick: inTick, splitLine: gridLine,
      axisLabel: first ? Object.assign({ margin: 26, formatter: v => v.toFixed(2) }, labelFont) : { show: false },
      name: first ? 'fP2S1_2' : '', nameLocation: 'middle', nameRotate: 90, nameGap: 86, nameTextStyle: labelFont },
    { gridIndex: gi, type: 'value', min: 0, max: 0.5, interval: 0.05, position: 'right',
      axisLine: first ? seamLine : blackLine, axisTick: inTick, axisLabel: { show: false }, splitLine: { show: false } }
  ];
}

function scatter(name, gi, data, base, shaded) {
  return {
    name: name, type: 'scatter', xAxisIndex: gi * 2, yAxisIndex: gi * 2, z: 3,
    symbol: 'rect', symbolSize: [8, 9], data: data,
    itemStyle: { color: pointColor(base, shaded) }
  };
}

function shade(gi, range) {
  return {
    name: 'shade', type: 'custom', xAxisIndex: gi * 2, yAxisIndex: gi * 2, z: 1, silent: true,
    data: [range], encode: { x: [0, 1] },
    renderItem: (params, api) => {
      const a = api.coord([api.value(0), 0.5]);
      const b = api.coord([api.value(1), 0]);
      return { type: 'rect', shape: { x: a[0], y: a[1], width: b[0] - a[0], height: b[1] - a[1] },
        style: { fill: 'rgba(157,106,48,0.55)' } };
    }
  };
}

const splitAt = 1350;
const chart = echarts.init(document.getElementById('chart'));
chart.setOption({
  animation: false,
  backgroundColor: '#fff',
  color: [blueColor, redColor, '#9d6a30'],
  grid: [
    { left: 129, top: 11, width: 1120, height: 939 },
    { left: 1249, top: 11, width: 1119, height: 939 }
  ],
  xAxis: xAxes(0, 1250, 1350, true).concat(xAxes(1, 1350, 1450, false)),
  yAxis: yAxes(0).concat(yAxes(1)),
  legend: {
    orient: 'vertical', left: 2388, top: 8,
    data: [{ name: 'm1ccd4', itemStyle: { color: blueColor } }, { name: 'm2ccd5', itemStyle: { color: redColor } }],
    icon: 'diamond', itemWidth: 7, itemHeight: 7, itemGap: 18,
    padding: [25, 80, 23, 44], borderColor: '#222', borderWidth: 2, backgroundColor: '#fff',
    textStyle: { fontFamily: 'DejaVu Sans', fontSize: 32, color: '#222', padding: [0, 0, 0, 24] }
  },
  series: [
    shade(0, shadeRanges[0]),
    shade(1, shadeRanges[1]),
    scatter('m1ccd4', 0, m1ccd4.filter(d => d[0] <= splitAt), blueColor, blueShaded),
    scatter('m1ccd4', 1, m1ccd4.filter(d => d[0] >= splitAt), blueColor, blueShaded),
    scatter('m2ccd5', 0, m2ccd5.filter(d => d[0] <= splitAt), redColor, redShaded),
    scatter('m2ccd5', 1, m2ccd5.filter(d => d[0] >= splitAt), redColor, redShaded)
  ],
  graphic: [
    // black strip on the left edge of the screenshot
    { type: 'rect', left: 0, top: 0, z: 100, shape: { width: 10, height: 1035 }, style: { fill: '#000' } },
    // seam between the two joined plots, through the 1350 label
    { type: 'line', z: 100, shape: { x1: 1249, y1: 958, x2: 1249, y2: 990 }, style: { stroke: '#333', lineWidth: 2 } },
    // crop of the last tick label
    { type: 'rect', z: 100, shape: { x: 2386, y: 952, width: 40, height: 50 }, style: { fill: '#fff' } },
    // yellow pointer lines
    { type: 'line', z: 110, shape: { x1: 268, y1: 1042, x2: 505, y2: 944 }, style: { stroke: '#f2e600', lineWidth: 12 } },
    { type: 'line', z: 110, shape: { x1: 1337, y1: 951, x2: 1812, y2: 1042 }, style: { stroke: '#f2e600', lineWidth: 12 } }
  ]
});
</script>
</body>
</html>
